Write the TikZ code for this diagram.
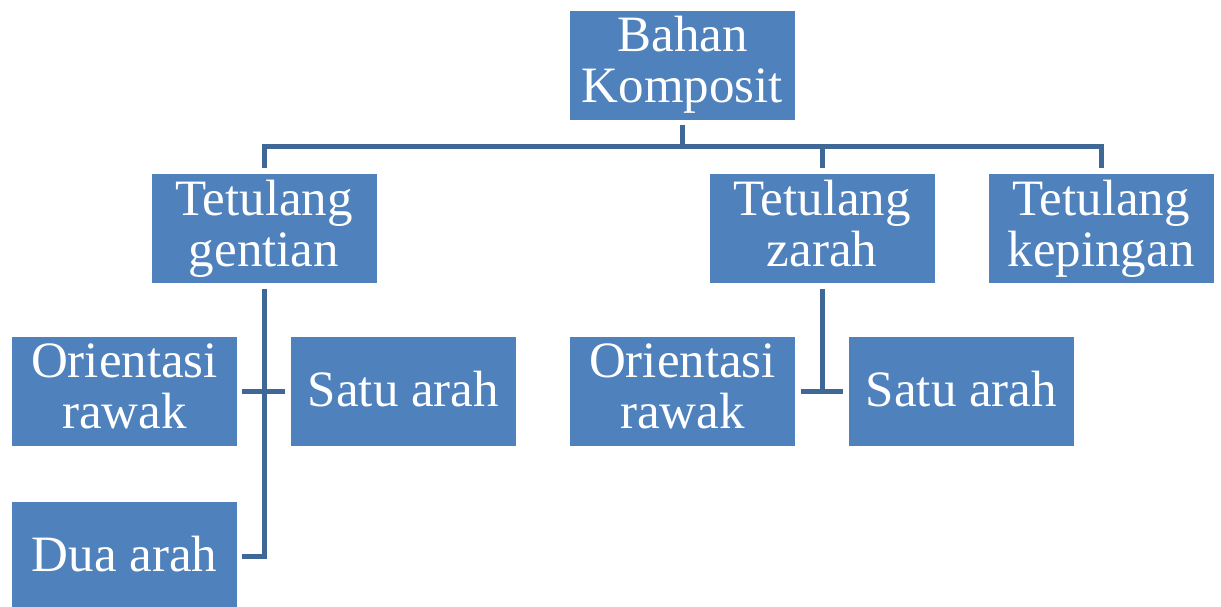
\documentclass[tikz,border=0pt]{standalone}
\usepackage{fontspec}
\setmainfont{Liberation Serif}
\definecolor{boxblue}{HTML}{4F81BD}
\definecolor{lineblue}{HTML}{3F6896}
\newcommand\mytopstrut{\rule{0pt}{40pt}}
\newcommand\mybotstrut{\rule[-10pt]{0pt}{10pt}}
\tikzset{
  box/.style={fill=boxblue, draw=none, text=white, minimum width=225pt, minimum height=109pt,
    inner sep=0pt, align=center, font=\fontsize{51}{51}\selectfont,
    execute at begin node=\mytopstrut, execute at end node=\mybotstrut},
  conn/.style={draw=lineblue, line width=5pt}
}
\begin{document}
\begin{tikzpicture}[x=1pt,y=-1pt]
\useasboundingbox (0,0) rectangle (1221,606);
\node[box] (bahan) at (682.5,65) {Bahan\\Komposit};
\node[box] (gentian) at (264,228.5) {Tetulang\\gentian};
\node[box] (zarah) at (822,228.5) {Tetulang\\zarah};
\node[box] (kepingan) at (1101,228.5) {Tetulang\\kepingan};
\node[box] (orl) at (124.5,391.5) {Orientasi\\rawak};
\node[box] (sal) at (403.5,391.5) {Satu arah};
\node[box] (dua) at (124.5,556) {Dua arah};
\node[box] (orr) at (682.5,391.5) {Orientasi\\rawak};
\node[box] (sar) at (961.5,391.5) {Satu arah};
\coordinate (bus) at (682.5,146);
\draw[conn, shorten <=5pt] (bahan.south) -- (bus);
\draw[conn, shorten >=6pt] (bus) -| (gentian.north);
\draw[conn, shorten >=6pt] (bus) -| (zarah.north);
\draw[conn, shorten >=6pt] (bus) -| (kepingan.north);
\draw[conn, shorten <=6pt, shorten >=5pt] (gentian.south) |- (dua.east);
\draw[conn, shorten <=5pt, shorten >=6pt] (orl.east) -- (sal.west);
\draw[conn, shorten <=6pt] (zarah.south) -- (zarah.south |- orr.east);
\draw[conn, shorten <=6pt, shorten >=6pt] (orr.east) -- (sar.west);
\end{tikzpicture}
\end{document}
